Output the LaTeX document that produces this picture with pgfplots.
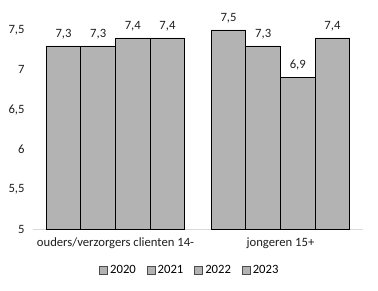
\documentclass[border=0pt]{standalone}
\usepackage{fontspec}
\setmainfont{Carlito}
\usepackage{pgfplots}
\pgfplotsset{compat=1.18}
\definecolor{barfill}{RGB}{179,179,179}
\definecolor{txt}{RGB}{30,30,30}
\begin{document}
\fontsize{9.5}{11}\selectfont
\begin{tikzpicture}
\begin{axis}[
  name=ax,
  scale only axis,
  width=247.5pt, height=149.25pt,
  ybar=0pt,
  bar width=0.21,
  xmin=-0.5, xmax=1.5,
  ymin=5, ymax=7.5,
  clip=false,
  axis x line=bottom, axis y line=left,
  x axis line style={draw={rgb,255:red,217;green,217;blue,217}, -},
  y axis line style={draw=none},
  major tick length=0pt,
  xtick={0,1},
  xticklabels={ouders/verzorgers clienten 14-, jongeren 15+},
  ytick={5,5.5,6,6.5,7,7.5},
  yticklabels={5,{5,5},6,{6,5},7,{7,5}},
  ticklabel style={font=\fontsize{9.5}{11}\selectfont, text=txt},
  yticklabel style={xshift=-3pt},
  xticklabel style={yshift=-3pt},
  nodes near coords={\pgfmathprintnumber[assume math mode=true,use comma,fixed,fixed zerofill,precision=1]{\pgfplotspointmeta}},
  nodes near coords style={font=\fontsize{9.5}{11}\selectfont, text=txt, yshift=2pt},
  legend columns=4,
  legend style={at={(0.476,-0.206)}, anchor=center, draw=none, font=\fontsize{9.5}{11}\selectfont,
    /tikz/every even column/.append style={column sep=6pt}},
  legend image code/.code={\draw[#1, draw=black!70, line width=0.4pt] (0pt,-3pt) rectangle (6pt,3pt);},
]
\addplot[fill=barfill, draw=black, line width=0.6pt] coordinates {(0,7.3) (1,7.5)};
\addplot[fill=barfill, draw=black, line width=0.6pt] coordinates {(0,7.3) (1,7.3)};
\addplot[fill=barfill, draw=black, line width=0.6pt] coordinates {(0,7.4) (1,6.9)};
\addplot[fill=barfill, draw=black, line width=0.6pt] coordinates {(0,7.4) (1,7.4)};
\legend{2020,2021,2022,2023}
\end{axis}
\pgfresetboundingbox
\path[use as bounding box] ([xshift=-24.75pt,yshift=-46.5pt]ax.south west) rectangle +(283.5pt,218.25pt);
\end{tikzpicture}
\end{document}
